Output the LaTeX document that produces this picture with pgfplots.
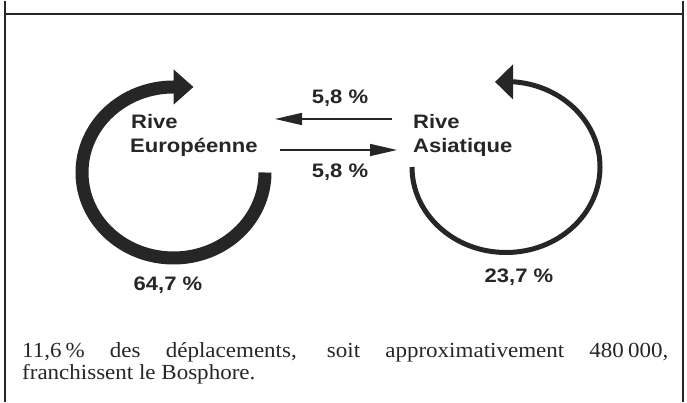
\documentclass[border=0pt]{standalone}
\usepackage{pgfplots}
\pgfplotsset{compat=1.18}
\usetikzlibrary{arrows.meta}
\usepackage{fontspec}
\setmainfont{Liberation Serif}[FakeStretch=1.07]
\newfontfamily\labfont{Liberation Sans}[FakeStretch=1.13]
\definecolor{ink}{RGB}{38,38,38}
\newcommand{\lab}{\labfont\bfseries\fontsize{19.5}{20}\selectfont}
\begin{document}
\begin{tikzpicture}
\begin{axis}[
  width=687pt, height=401pt, scale only axis,
  xmin=0, xmax=687, ymin=0, ymax=401,
  hide axis, clip=false,
]
\path (axis cs:0,0) rectangle (axis cs:687,401);
% frame
\draw[ink, line width=2pt] (axis cs:5,0) -- (axis cs:5,401);
\draw[ink, line width=2pt] (axis cs:683,0) -- (axis cs:683,401);
\draw[ink, line width=2pt] (axis cs:5,387.5) -- (axis cs:683,387.5);
% flows across the Bosphorus: 5,8 % each way
\addplot[ink, line width=1.5pt, -{Triangle[length=27pt,width=12pt]}] coordinates {(392,283) (275,283)};
\addplot[ink, line width=1.5pt, -{Triangle[length=27pt,width=12pt]}] coordinates {(280,252) (397,252)};
% internal flows: 64,7 % (European), 23,7 % (Asian)
\draw[ink, line width=13pt, -{Triangle[length=20pt,width=34pt]}]
  (axis cs:265,229.5) arc[start angle=0, end angle=-270, x radius=91.5pt, y radius=85.5pt] -- ++(20pt,0);
\draw[ink, line width=5pt, -{Triangle[length=18pt,width=34pt]}]
  (axis cs:412,235) arc[start angle=180, end angle=444.5, x radius=94pt, y radius=85.5pt] -- ++(-20pt,0);
% labels
\node[ink, anchor=base west, inner sep=0] at (axis cs:131,273) {\lab Rive};
\node[ink, anchor=base west, inner sep=0] at (axis cs:130,249) {\lab Européenne};
\node[ink, anchor=base west, inner sep=0] at (axis cs:413,273) {\lab Rive};
\node[ink, anchor=base west, inner sep=0] at (axis cs:413,249) {\lab Asiatique};
\node[ink, anchor=base, inner sep=0] at (axis cs:168,111) {\lab 64,7 \%};
\node[ink, anchor=base, inner sep=0] at (axis cs:519,119) {\lab 23,7 \%};
\node[ink, anchor=base, inner sep=0] at (axis cs:340,298) {\lab 5,8 \%};
\node[ink, anchor=base, inner sep=0] at (axis cs:340,224) {\lab 5,8 \%};
% text
\node[ink, anchor=base west, inner sep=0] at (axis cs:22,44) {\fontsize{21.5}{22}\selectfont\hbox to 646pt{11,6\kern4pt\% des déplacements, soit approximativement 480\kern4pt000,}};
\node[ink, anchor=base west, inner sep=0] at (axis cs:22,22) {\fontsize{21.5}{22}\selectfont franchissent le Bosphore.};
\end{axis}
\end{tikzpicture}
\end{document}
